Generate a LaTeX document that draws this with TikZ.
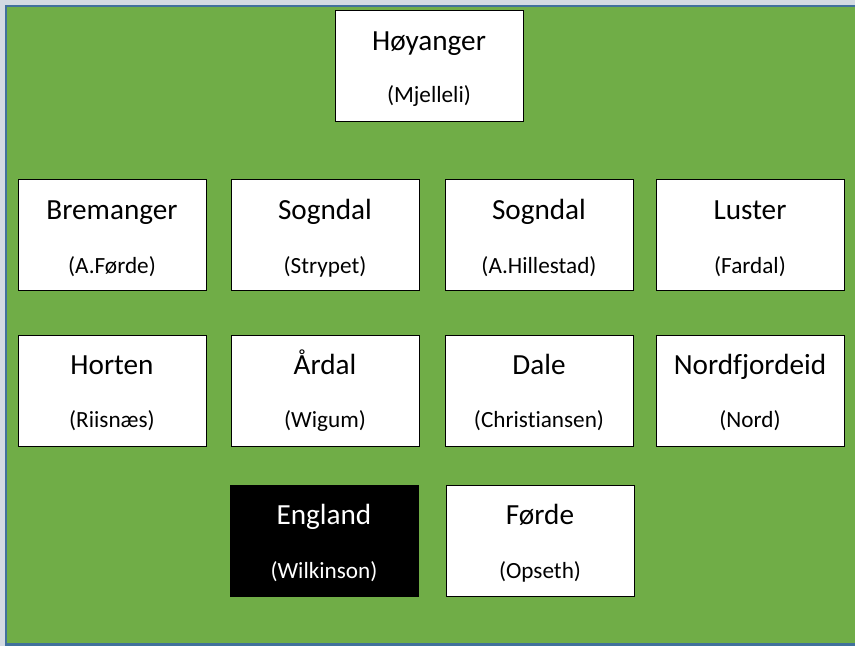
\documentclass[tikz,border=0pt]{standalone}
\usepackage{fontspec}
\setmainfont{Carlito}[Ligatures=NoCommon]
\definecolor{bggreen}{HTML}{70AD47}
\definecolor{frameblue}{HTML}{41719C}
\definecolor{outergray}{HTML}{D3DAE2}
\tikzset{
  box/.style={draw=black, fill=white, line width=1pt, minimum width=188pt, minimum height=111pt, inner sep=0pt, outer sep=0pt, anchor=north west},
  darkbox/.style={box, fill=black},
  ttl/.style={anchor=base, inner sep=0pt, font=\fontsize{29.2}{31}\selectfont},
  sub/.style={anchor=base, inner sep=0pt, font=\fontsize{23.2}{25}\selectfont},
}
\begin{document}
\begin{tikzpicture}[x=1pt, y=-1pt]
\useasboundingbox (0,0) rectangle (855,646);
\fill[outergray] (0,0) rectangle (855,646);
\draw[frameblue, line width=2.5pt, fill=bggreen] (6,6) rectangle (875,644.5);

% top
\node[box] (hoy) at (335,10) {};
\node[ttl] (hoyt) at ([yshift=-40pt]hoy.north) {Høyanger};
\node[sub] (hoys) at ([yshift=-92pt]hoy.north) {(Mjelleli)};

% row 1
\node[box] (bre) at (18,179) {};
\node[ttl] (bret) at ([yshift=-40pt]bre.north) {Bremanger};
\node[sub] (bres) at ([yshift=-94pt]bre.north) {(A.Førde)};

\node[box] (sog1) at (231,179) {};
\node[ttl] (sog1t) at ([yshift=-40pt]sog1.north) {Sogndal};
\node[sub] (sog1s) at ([yshift=-94pt]sog1.north) {(Strypet)};

\node[box] (sog2) at (445,179) {};
\node[ttl] (sog2t) at ([yshift=-40pt]sog2.north) {Sogndal};
\node[sub] (sog2s) at ([yshift=-94pt]sog2.north) {(A.Hillestad)};

\node[box] (lus) at (656,179) {};
\node[ttl] (lust) at ([yshift=-40pt]lus.north) {Luster};
\node[sub] (luss) at ([yshift=-94pt]lus.north) {(Fardal)};

% row 2
\node[box] (hor) at (18,335) {};
\node[ttl] (hort) at ([yshift=-39pt]hor.north) {Horten};
\node[sub] (hors) at ([yshift=-92pt]hor.north) {(Riisnæs)};

\node[box] (ard) at (231,335) {};
\node[ttl] (ardt) at ([yshift=-39pt]ard.north) {Årdal};
\node[sub] (ards) at ([yshift=-92pt]ard.north) {(Wigum)};

\node[box] (dal) at (445,335) {};
\node[ttl] (dalt) at ([yshift=-39pt]dal.north) {Dale};
\node[sub] (dals) at ([yshift=-92pt]dal.north) {(Christiansen)};

\node[box] (nor) at (656,335) {};
\node[ttl] (nort) at ([yshift=-39pt]nor.north) {Nordfjordeid};
\node[sub] (nors) at ([yshift=-92pt]nor.north) {(Nord)};

% row 3
\node[darkbox] (eng) at (230,485) {};
\node[ttl, text=white] (engt) at ([yshift=-39pt]eng.north) {England};
\node[sub, text=white] (engs) at ([yshift=-93pt]eng.north) {(Wilkinson)};

\node[box] (for) at (446,485) {};
\node[ttl] (fort) at ([yshift=-39pt]for.north) {Førde};
\node[sub] (fors) at ([yshift=-93pt]for.north) {(Opseth)};
\end{tikzpicture}
\end{document}
